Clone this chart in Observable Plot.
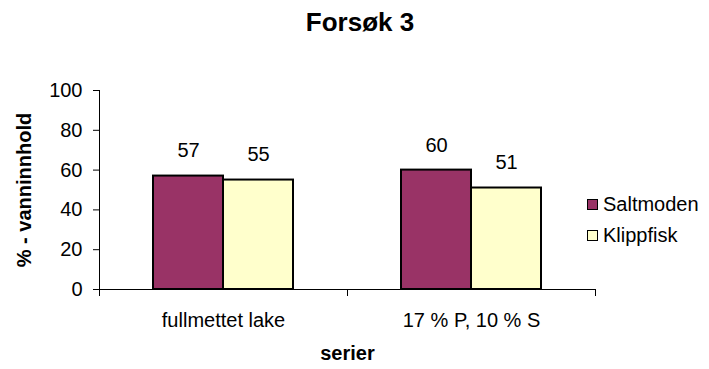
<!DOCTYPE html>
<html>
<head>
<meta charset="utf-8">
<script src="https://cdn.jsdelivr.net/npm/d3@7"></script>
<script src="https://cdn.jsdelivr.net/npm/@observablehq/plot@0.6"></script>
<style>
  html, body { margin: 0; padding: 0; background: #fff; }
  #chart { position: relative; width: 709px; height: 369px; font-family: "Liberation Sans", Arial, sans-serif; color: #000; }
  #chart svg { position: absolute; left: 0; top: 0; }
  #title { position: absolute; left: 260px; top: 9px; width: 200px; text-align: center; font-size: 26px; line-height: 26px; font-weight: bold; }
  #legend { position: absolute; left: 587px; top: 194px; font-size: 20px; line-height: 20px; }
  .item { display: flex; align-items: center; height: 20px; margin-bottom: 11px; }
  .swatch { width: 9px; height: 9px; border: 1px solid #000; margin-right: 5px; }
</style>
</head>
<body>
<div id="chart">
  <div id="title">Forsøk 3</div>
  <div id="legend"></div>
</div>
<script>
// Water content per treatment series, two fish products
const categories = ["fullmettet lake", "17 % P, 10 % S"];
const seriesNames = ["Saltmoden", "Klippfisk"];
const saltmoden = [57, 60];
const klippfisk = [55, 51];
const yTicks = [0, 20, 40, 60, 80, 100];
const seriesColors = ["#993366", "#FFFFCC"];

const rows = categories.flatMap((c, i) => [
  {category: c, series: seriesNames[0], value: saltmoden[i]},
  {category: c, series: seriesNames[1], value: klippfisk[i]}
]);

const W = 709, H = 369, mL = 99, mR = 114, mT = 90, mB = 80;
const plotH = H - mT - mB;

const chart = Plot.plot({
  width: W,
  height: H,
  marginLeft: mL,
  marginRight: mR,
  marginTop: mT,
  marginBottom: mB,
  style: {fontFamily: '"Liberation Sans", Arial, sans-serif', fontSize: "20px", color: "#000", background: "transparent", overflow: "visible"},
  fx: {domain: categories, padding: 0},
  x: {domain: seriesNames, axis: null, paddingInner: 0, paddingOuter: 0.747},
  y: {domain: [0, 100]},
  color: {domain: seriesNames, range: seriesColors},
  marks: [
    Plot.barY(rows, {fx: "category", x: "series", y: "value", fill: "series", stroke: "#000", strokeWidth: 2}),
    Plot.text(rows, {fx: "category", x: "series", y: "value", text: "value", dy: -25}),
    // axis lines along the left and bottom of the whole frame
    Plot.frame({anchor: "bottom", facet: "super"}),
    Plot.frame({anchor: "left", facet: "super"}),
    // category boundary ticks below the baseline
    Plot.frame({anchor: "left", insetTop: plotH, insetBottom: -6}),
    Plot.frame({anchor: "right", insetTop: plotH, insetBottom: -6}),
    Plot.axisY({ticks: yTicks, tickSize: 6, tickPadding: 11, label: null}),
    Plot.axisFx({anchor: "bottom", tickSize: 0, tickPadding: 23, label: null}),
    Plot.text(["% - vanninnhold"], {facet: "super", frameAnchor: "left", textAnchor: "middle", rotate: -90, dx: -75, fontWeight: "bold"}),
    Plot.text(["serier"], {facet: "super", frameAnchor: "bottom", dy: 70, fontWeight: "bold"})
  ]
});

const root = document.getElementById("chart");
root.insertBefore(chart, root.firstChild);

const legend = document.getElementById("legend");
seriesNames.forEach((name, i) => {
  const item = document.createElement("div");
  item.className = "item";
  const sw = document.createElement("span");
  sw.className = "swatch";
  sw.style.background = seriesColors[i];
  const label = document.createElement("span");
  label.textContent = name;
  item.append(sw, label);
  legend.append(item);
});
</script>
</body>
</html>
